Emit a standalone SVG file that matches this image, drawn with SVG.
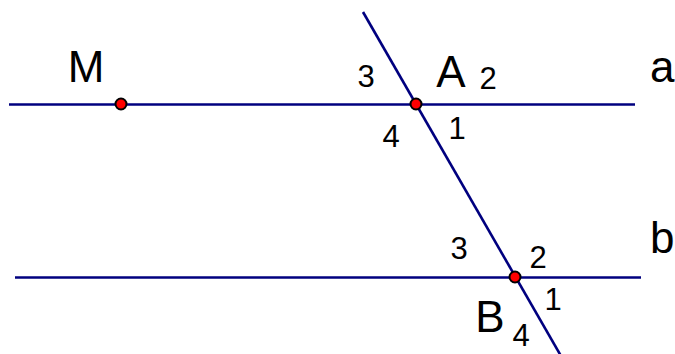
<svg xmlns="http://www.w3.org/2000/svg" width="675" height="354" viewBox="0 0 675 354">
<style>
.ln{stroke:#00007f;stroke-width:2.6;fill:none}
.pt{fill:#ff0000;stroke:#000000;stroke-width:2}
.big{font-family:"Liberation Sans",Arial,sans-serif;font-size:44px;fill:#000}
.num{font-family:"Liberation Sans",Arial,sans-serif;font-size:31px;fill:#000;text-anchor:middle}
</style>
<rect width="675" height="354" fill="#ffffff"/>
<g id="connectors">
<line id="line-a" class="ln" x1="9" y1="104.5" x2="635" y2="104.5"/>
<line id="line-b" class="ln" x1="15" y1="277.5" x2="641" y2="277.5"/>
<line id="transversal" class="ln" x1="363" y1="12" x2="561" y2="356"/>
</g>
<g id="node-M">
<circle class="pt" cx="121" cy="104" r="5.5"/>
<text class="big" x="86" y="82" text-anchor="middle">M</text>
</g>
<g id="node-A">
<circle class="pt" cx="416" cy="104" r="5.5"/>
<text class="big" x="451" y="87" text-anchor="middle">A</text>
<text class="num" x="366" y="87">3</text>
<text class="num" x="488" y="89">2</text>
<text class="num" x="391" y="147">4</text>
<text class="num" x="457" y="139">1</text>
</g>
<g id="node-B">
<circle class="pt" cx="515" cy="277" r="5.5"/>
<text class="big" x="490" y="332" text-anchor="middle">B</text>
<text class="num" x="459" y="259">3</text>
<text class="num" x="538" y="268">2</text>
<text class="num" x="553" y="310">1</text>
<text class="num" x="521" y="346">4</text>
</g>
<g id="label-a">
<text class="big" x="650" y="82">a</text>
</g>
<g id="label-b">
<text class="big" x="650" y="253">b</text>
</g>
</svg>
